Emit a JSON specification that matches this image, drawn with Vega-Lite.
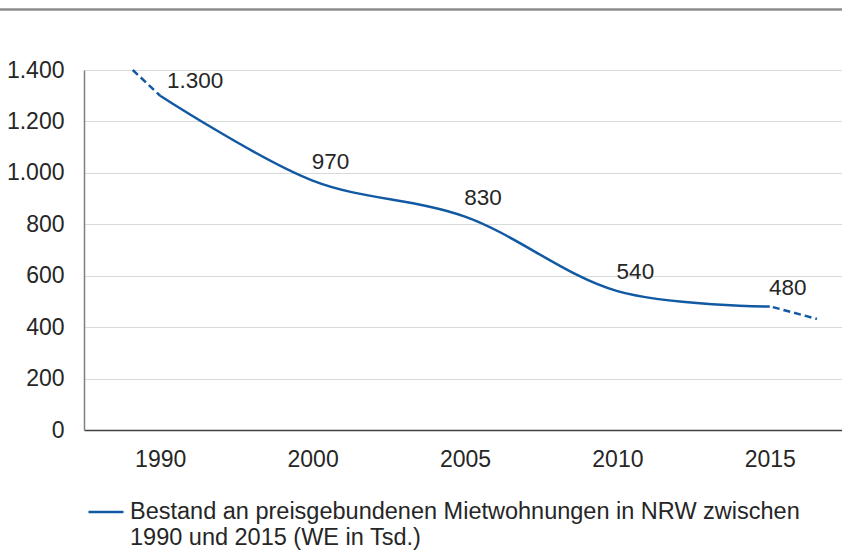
{
  "$schema": "https://vega.github.io/schema/vega-lite/v6.json",
  "width": 758,
  "height": 360,
  "autosize": {"type": "none"},
  "padding": {"left": 84, "top": 70, "right": 0, "bottom": 121},
  "config": {
    "view": {"stroke": null},
    "font": "Liberation Sans",
    "locale": {"number": {"decimal": ",", "thousands": ".", "grouping": [3], "currency": ["", " €"]}}
  },
  "datasets": {
    "main": [
      {"year": "1990", "pos": 0, "value": 1300},
      {"year": "2000", "pos": 1, "value": 970},
      {"year": "2005", "pos": 2, "value": 830},
      {"year": "2010", "pos": 3, "value": 540},
      {"year": "2015", "pos": 4, "value": 480}
    ],
    "dash": [
      {"seg": "start", "pos": -0.18, "value": 1400},
      {"seg": "start", "pos": 0, "value": 1300},
      {"seg": "end", "pos": 4.02, "value": 478},
      {"seg": "end", "pos": 4.31, "value": 432}
    ],
    "frame": [
      {"from": -1.06, "to": 4.6, "level": 1635}
    ]
  },
  "layer": [
    {
      "data": {"name": "main"},
      "mark": {"type": "line", "interpolate": "catmull-rom", "strokeWidth": 2.5},
      "encoding": {
        "x": {
          "field": "pos",
          "type": "quantitative",
          "scale": {"domain": [-0.5, 4.474], "nice": false, "zero": false},
          "axis": {
            "title": null,
            "values": [0, 1, 2, 3, 4],
            "labelExpr": "['1990','2000','2005','2010','2015'][datum.value]",
            "grid": false,
            "ticks": false,
            "domainColor": "#404040",
            "domainWidth": 1.5,
            "labelFontSize": 23,
            "labelColor": "#262626",
            "labelPadding": 18
          }
        },
        "y": {
          "field": "value",
          "type": "quantitative",
          "scale": {"domain": [0, 1400], "nice": false},
          "axis": {
            "title": null,
            "values": [0, 200, 400, 600, 800, 1000, 1200, 1400],
            "format": ",.0f",
            "grid": true,
            "gridColor": "#d9d9d9",
            "gridWidth": 1.2,
            "ticks": false,
            "domainColor": "#808080",
            "domainWidth": 1.5,
            "labelFontSize": 23,
            "labelColor": "#262626",
            "labelPadding": 20
          }
        },
        "color": {
          "datum": "Bestand an preisgebundenen Mietwohnungen in NRW zwischen 1990 und 2015 (WE in Tsd.)",
          "scale": {"range": ["#1259a3"]},
          "legend": {
            "title": null,
            "orient": "none",
            "legendX": 3,
            "legendY": 423,
            "symbolType": "stroke",
            "symbolSize": 1225,
            "symbolStrokeWidth": 2.5,
            "labelFontSize": 23.5,
            "labelColor": "#262626",
            "labelLimit": 900,
            "labelOffset": 5,
            "labelBaseline": "middle",
            "labelExpr": "[slice(datum.label, 0, 56), slice(datum.label, 57)]"
          }
        }
      }
    },
    {
      "data": {"name": "dash"},
      "mark": {"type": "line", "strokeDash": [7, 4], "strokeWidth": 2.5, "color": "#1259a3"},
      "encoding": {
        "x": {"field": "pos", "type": "quantitative"},
        "y": {"field": "value", "type": "quantitative"},
        "detail": {"field": "seg"}
      }
    },
    {
      "data": {"name": "main"},
      "transform": [{"filter": "datum.pos == 0"}],
      "mark": {"type": "text", "fontSize": 22.5, "color": "#262626", "dx": 35, "dy": -8, "baseline": "alphabetic", "align": "center"},
      "encoding": {
        "x": {"field": "pos", "type": "quantitative"},
        "y": {"field": "value", "type": "quantitative"},
        "text": {"field": "value", "type": "quantitative", "format": ",.0f"}
      }
    },
    {
      "data": {"name": "main"},
      "transform": [{"filter": "datum.pos > 0"}],
      "mark": {"type": "text", "fontSize": 22.5, "color": "#262626", "dx": 18, "dy": -12, "baseline": "alphabetic", "align": "center"},
      "encoding": {
        "x": {"field": "pos", "type": "quantitative"},
        "y": {"field": "value", "type": "quantitative"},
        "text": {"field": "value", "type": "quantitative", "format": ",.0f"}
      }
    },
    {
      "data": {"name": "frame"},
      "mark": {"type": "rule", "color": "#8c8c8c", "strokeWidth": 2.5},
      "encoding": {
        "x": {"field": "from", "type": "quantitative"},
        "x2": {"field": "to"},
        "y": {"field": "level", "type": "quantitative"}
      }
    }
  ]
}
